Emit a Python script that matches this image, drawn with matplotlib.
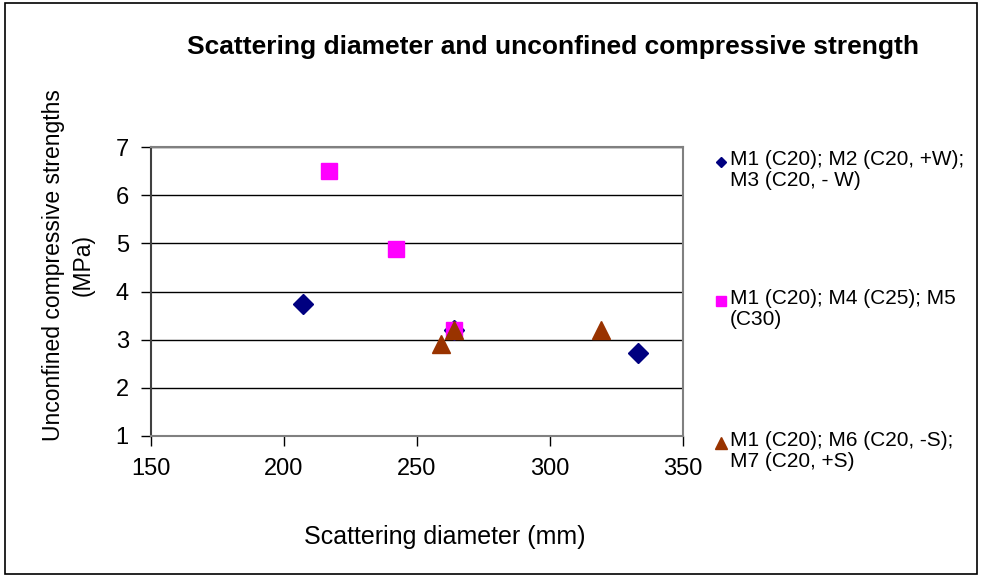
import matplotlib
matplotlib.use("Agg")
import matplotlib.pyplot as plt
from matplotlib.patches import Rectangle
from matplotlib.lines import Line2D

plt.rcParams['font.family'] = ['Liberation Sans', 'DejaVu Sans']

# Data
series_labels = ["M1 (C20); M2 (C20, +W);\nM3 (C20, - W)",
                 "M1 (C20); M4 (C25); M5\n(C30)",
                 "M1 (C20); M6 (C20, -S);\nM7 (C20, +S)"]
w_x = [264, 333, 207]
w_y = [3.2, 2.72, 3.75]
c_x = [264, 242, 217]
c_y = [3.2, 4.88, 6.5]
s_x = [264, 259, 319]
s_y = [3.2, 2.91, 3.2]
x_ticks = [150, 200, 250, 300, 350]
y_ticks = [1, 2, 3, 4, 5, 6, 7]

colors = ['#000080', '#FF00FF', '#993300']
markers = ['D', 's', '^']

fig = plt.figure(figsize=(9.82, 5.77), dpi=100)
ax = fig.add_axes([0.1538, 0.2444, 0.5417, 0.5008])

ax.plot(w_x, w_y, linestyle='none', marker=markers[0], markersize=10, color=colors[0], zorder=3)
ax.plot(c_x, c_y, linestyle='none', marker=markers[1], markersize=11, color=colors[1], zorder=4)
ax.plot(s_x, s_y, linestyle='none', marker=markers[2], markersize=13, color=colors[2], zorder=5)

ax.set_xlim(150, 350)
ax.set_ylim(1, 7)
ax.set_xticks(x_ticks)
ax.set_yticks(y_ticks)
ax.tick_params(axis='both', labelsize=17, direction='out', length=7, width=1, colors='black')
ax.tick_params(axis='x', pad=9)
ax.tick_params(axis='y', pad=9)
ax.yaxis.grid(True, color='black', linewidth=1)
ax.set_axisbelow(True)
for sp in ['top', 'right', 'bottom']:
    ax.spines[sp].set_color('#808080')
    ax.spines[sp].set_linewidth(1.5)
ax.spines['left'].set_color('#404040')
ax.spines['left'].set_linewidth(1.5)

fig.text(445 / 982, 1 - 537 / 577, "Scattering diameter (mm)", fontsize=18,
         ha='center', va='center')
fig.text(68 / 982, 1 - 265 / 577, "Unconfined compressive strengths\n(MPa)", fontsize=16.5,
         rotation=90, ha='center', va='center', multialignment='center', linespacing=1.35)

fig.text(553 / 982, 1 - 47 / 577, "Scattering diameter and unconfined compressive strength",
         fontsize=19, fontweight='bold', ha='center', va='center')

# Legend (manual layout: marker aligned with first text line)
leg_y = [162, 301, 443]
leg_ms = [5.5, 7, 8]
for lab, col, mk, yy, ms in zip(series_labels, colors, markers, leg_y, leg_ms):
    fig.add_artist(Line2D([721 / 982], [1 - yy / 577], transform=fig.transFigure,
                          linestyle='none', marker=mk, markersize=ms, color=col))
    fig.text(730 / 982, 1 - (yy - 12) / 577, lab, fontsize=15, ha='left', va='top',
             linespacing=1.12)

fig.patches.append(Rectangle((0.005, 0.006), 0.99, 0.989, transform=fig.transFigure,
                             fill=False, edgecolor='black', linewidth=1.2))

fig.savefig("out.png", dpi=100)
